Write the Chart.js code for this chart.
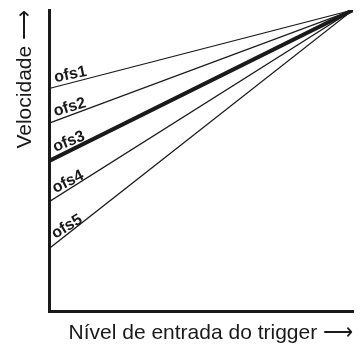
<!DOCTYPE html>
<html>
<head>
<meta charset="utf-8">
<script src="https://cdn.jsdelivr.net/npm/chart.js@4/dist/chart.umd.min.js"></script>
<style>
  html, body { margin: 0; padding: 0; background: #fff; }
  #wrap { width: 361px; height: 352px; }
</style>
</head>
<body>
<div id="wrap"><canvas id="ofsChart"></canvas></div>
<script>
// offset curves: velocity at zero trigger input, all meet at (100, 100)
const offsetNames = ["ofs1", "ofs2", "ofs3", "ofs4", "ofs5"];
const startValues = [74, 62.5, 50, 36.5, 21];
const endValue = 100;
const lineWidths = [1.2, 1.2, 4, 1.2, 1.2];

const xTitle = "Nível de entrada do trigger ⟶";
const yTitle = "Velocidade ⟶";

// LABELS ALONG EACH LINE, JUST ABOVE ITS LEFT END
const ofsLabels = {
    id: "ofsLabels",
    afterDatasetsDraw(chart) {
        const { ctx, scales: { x, y } } = chart;
        ctx.save();
        ctx.fillStyle = "#1a1a1a";
        ctx.font = "bold 16px 'Liberation Sans', Arial, sans-serif";
        ctx.textBaseline = "alphabetic";
        offsetNames.forEach((name, i) => {
            const x0 = x.getPixelForValue(0);
            const y0 = y.getPixelForValue(startValues[i]);
            const x1 = x.getPixelForValue(endValue);
            const y1 = y.getPixelForValue(endValue);
            const angle = Math.atan2(y1 - y0, x1 - x0);
            const px = x0 + 6;
            const gap = 4 + lineWidths[i] / 2;
            const py = y0 + (y1 - y0) * (6 / (x1 - x0)) - gap;
            ctx.save();
            ctx.translate(px, py);
            ctx.rotate(angle * 0.82);
            ctx.fillText(name, 0, 0);
            ctx.restore();
        });
        ctx.restore();
    }
};

const ctx = document.querySelector("#ofsChart").getContext("2d");

new Chart(ctx, {
    type: "scatter",
    data: {
        datasets: offsetNames.map((name, i) => ({
            label: name,
            data: [{ x: 0, y: startValues[i] }, { x: endValue, y: endValue }],
            showLine: true,
            borderColor: "#1a1a1a",
            borderWidth: lineWidths[i],
            pointRadius: 0
        }))
    },
    options: {
        responsive: true,
        maintainAspectRatio: false,
        animation: false,
        layout: { padding: { left: 3, right: 8, top: 10, bottom: 2 } },
        plugins: {
            legend: { display: false },
            tooltip: { enabled: false }
        },
        scales: {
            x: {
                type: "linear",
                min: 0,
                max: 100,
                grid: { display: false, drawTicks: false },
                ticks: { display: false },
                border: { display: true, color: "#1a1a1a", width: 3 },
                title: {
                    display: true,
                    text: xTitle,
                    align: "end",
                    color: "#1a1a1a",
                    font: { family: "'Liberation Sans', Arial, sans-serif", size: 21 },
                    padding: { top: 9, bottom: 4 }
                }
            },
            y: {
                type: "linear",
                min: 0,
                max: 100,
                grid: { display: false, drawTicks: false },
                ticks: { display: false },
                border: { display: true, color: "#1a1a1a", width: 3 },
                title: {
                    display: true,
                    text: yTitle,
                    align: "end",
                    color: "#1a1a1a",
                    font: { family: "'Liberation Sans', Arial, sans-serif", size: 21 },
                    padding: { top: 10, bottom: 11 }
                }
            }
        }
    },
    plugins: [ofsLabels]
});
</script>
</body>
</html>
